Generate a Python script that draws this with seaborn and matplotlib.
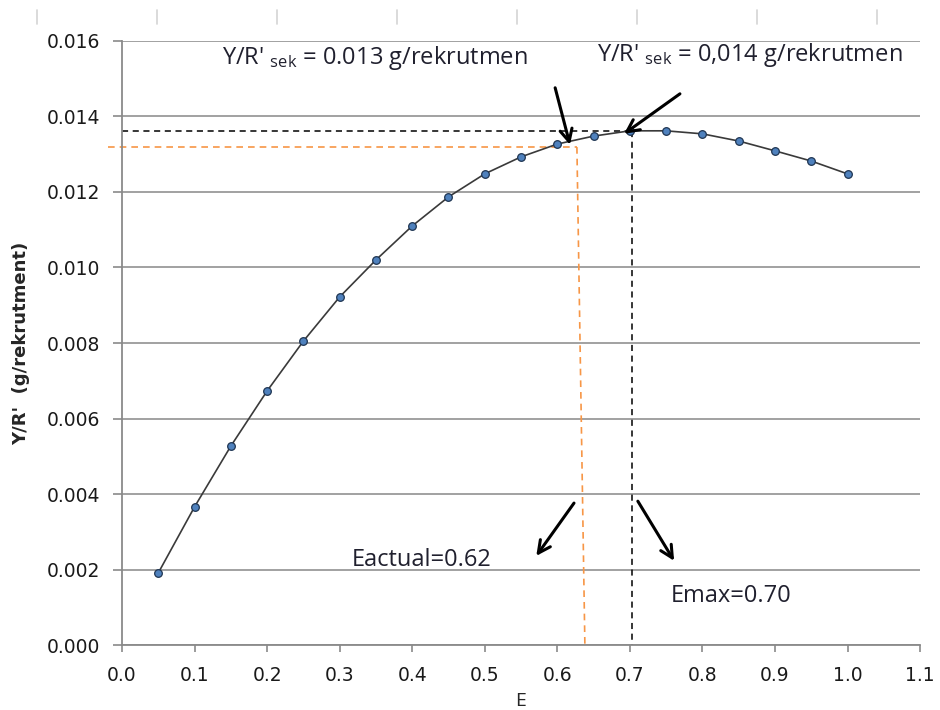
import numpy as np
import pandas as pd
import seaborn as sns
import matplotlib.pyplot as plt
from matplotlib.lines import Line2D

# values
E = [0.05, 0.10, 0.15, 0.20, 0.25, 0.30, 0.35, 0.40, 0.45, 0.50,
     0.55, 0.60, 0.65, 0.70, 0.75, 0.80, 0.85, 0.90, 0.95, 1.00]
YR = [0.00191, 0.00366, 0.00527, 0.00673, 0.00805, 0.00922, 0.01020, 0.01110,
      0.01187, 0.01248, 0.01293, 0.01327, 0.01348, 0.01362, 0.01362, 0.01354,
      0.01335, 0.01309, 0.01282, 0.01248]

e_actual = 0.627
yr_actual = 0.01319
e_max = 0.703
yr_max = 0.01362

df = pd.DataFrame({'E': E, 'YR': YR})

sns.set_style("white")
plt.rcParams['font.family'] = ['DejaVu Sans']

fig = plt.figure(figsize=(9.4, 7.1), dpi=100)
ax = fig.add_axes([0.1298, 0.0915, 0.849, 0.8508])

ax.set_axisbelow(True)
ax.grid(axis='y', color='#9a9a9a', linewidth=1.3)

sns.lineplot(data=df, x='E', y='YR', ax=ax, color='#3a3a3a', linewidth=1.2,
             marker='o', markersize=5.5, markerfacecolor='#4f81bd',
             markeredgecolor='#1f3552', markeredgewidth=0.9, zorder=3)

# reference lines
ax.plot([-0.0193, e_actual], [yr_actual, yr_actual], color='#f79646',
        linestyle=(0, (4, 3)), linewidth=1.2, clip_on=False, zorder=2)
ax.plot([e_actual, 0.638], [yr_actual, 0], color='#f79646',
        linestyle=(0, (4, 3)), linewidth=1.2, zorder=2)
ax.plot([0, e_max], [yr_max, yr_max], color='black',
        linestyle=(0, (4, 3)), linewidth=1.1, zorder=2)
ax.plot([e_max, e_max], [yr_max, 0], color='black',
        linestyle=(0, (4, 3)), linewidth=1.1, zorder=2)

ax.set_xlim(0, 1.1)
ax.set_ylim(0, 0.016)
ax.set_xticks(np.arange(0, 1.11, 0.1))
ax.set_xticklabels([f"{v:.1f}" for v in np.arange(0, 1.11, 0.1)])
ax.set_yticks(np.arange(0, 0.0161, 0.002))
ax.set_yticklabels([f"{v:.3f}" for v in np.arange(0, 0.0161, 0.002)])
ax.tick_params(axis='y', labelsize=13.5, length=6.5, width=1.2, color='#8a8a8a',
               left=True, pad=9, labelcolor='#1a1a1a')
ax.tick_params(axis='x', labelsize=13.5, length=5, width=1.2, color='#8a8a8a',
               bottom=True, pad=10, labelcolor='#1a1a1a')

for s in ['top', 'right']:
    ax.spines[s].set_visible(False)
for s in ['left', 'bottom']:
    ax.spines[s].set_color('#8a8a8a')
    ax.spines[s].set_linewidth(1.3)

ax.set_xlabel('E', fontsize=14, labelpad=5, family=['Open Sans', 'DejaVu Sans'])
ax.set_ylabel("Y/R'  (g/rekrutment)", fontsize=13, fontweight='bold', labelpad=12)

txt_color = '#20202e'
tfont = ['Open Sans', 'DejaVu Sans']
fs = 17
ax.text(0.138, 0.01555, r"Y/R' $\mathregular{_{sek}}$ = 0.013 g/rekrutmen",
        fontsize=fs, color=txt_color, family=tfont, va='center')
ax.text(0.655, 0.01562, r"Y/R' $\mathregular{_{sek}}$ = 0,014 g/rekrutmen",
        fontsize=fs, color=txt_color, family=tfont, va='center')
ax.text(0.317, 0.00225, "Eactual=0.62", fontsize=fs, color=txt_color,
        family=tfont, va='center')
ax.text(0.757, 0.00130, "Emax=0.70", fontsize=fs, color=txt_color,
        family=tfont, va='center')

arrow = dict(arrowstyle='->', color='black', lw=2.2, mutation_scale=22,
             shrinkA=0, shrinkB=0)
ax.annotate('', xy=(0.6175, 0.01325), xytext=(0.597, 0.01476), arrowprops=arrow)
ax.annotate('', xy=(0.692, 0.01354), xytext=(0.769, 0.0146), arrowprops=arrow)
ax.annotate('', xy=(0.571, 0.00236), xytext=(0.623, 0.00376), arrowprops=arrow)
ax.annotate('', xy=(0.761, 0.00223), xytext=(0.711, 0.00381), arrowprops=arrow)

# faint column marks along the top edge
for px in [37, 157, 277, 397, 517, 637, 757, 877]:
    fig.add_artist(Line2D([px / 940, px / 940], [1 - 10 / 710, 1 - 24 / 710],
                          color='#d4d4d4', linewidth=1.2))

fig.savefig('out.png', dpi=100)
